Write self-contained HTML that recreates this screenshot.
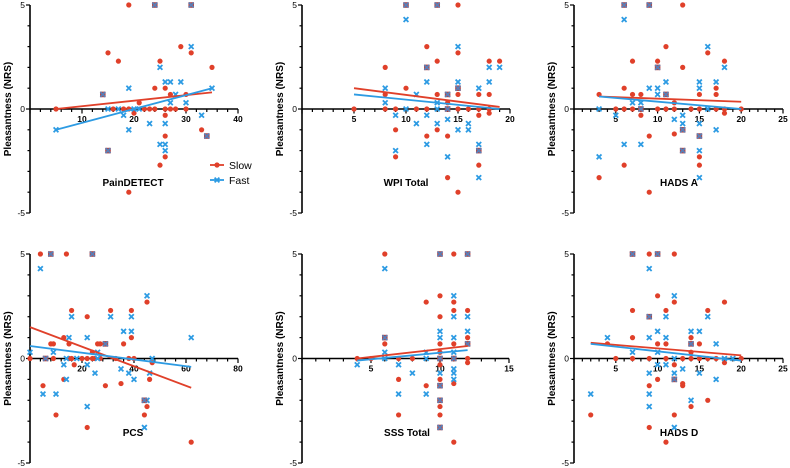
<!DOCTYPE html>
<html><head><meta charset="utf-8"><style>
html,body{margin:0;padding:0;background:#fff;}
svg{display:block;font-family:"Liberation Sans",Arial,sans-serif;}
</style></head><body>
<svg id="chart" width="790" height="468" viewBox="0 0 790 468" xmlns="http://www.w3.org/2000/svg"></svg>
<script>
// ---- data (x, pleasantness) ----
const painSlow=[[19,5],[24,5],[31,5],[15,2.7],[17,2.3],[29,3],[31,2.7],[35,2],[25,2.3],[24,1],[26,1],[14,0.7],[21,0.3],[27,0.7],[30,0.7],[5,0],[16,0],[18,0],[19,0],[22,0],[23,0],[24,0],[26,0],[27,0],[28,0],[30,0],[20,-0.2],[26,-0.3],[26,-1.3],[33,-1],[34,-1.3],[15,-2],[26,-2.3],[25,-2.7],[19,-4]];
const painFast=[[24,5],[31,5],[31,3],[25,2],[26,1.3],[27,1.3],[29,1.3],[19,1],[35,1],[28,0.7],[27,0.3],[30,0.3],[15,0],[17,0],[20,0],[21,0],[18,-0.3],[33,-0.3],[23,-0.7],[26,-0.7],[5,-1],[19,-1],[25,-1.7],[26,-1.7],[26,-2],[15,-2],[34,-1.3],[14,0.7]];
const wpiSlow=[[10,5],[13,5],[15,5],[12,3],[15,2.7],[13,2.3],[19,2.3],[18,2.3],[8,2],[12,2],[10,1],[15,1],[8,0.7],[13,0.7],[14,0.7],[15,0.7],[17,0.7],[18,0.7],[14,0.3],[5,0],[8,0],[9,0],[11,0],[12,0],[14,0],[15,0],[16,0],[17,0],[18,0],[17,-0.3],[18,-0.2],[9,-1],[13,-1],[14,-1.3],[12,-1.3],[17,-2],[9,-2.3],[17,-2.7],[14,-3.3],[15,-4]];
const wpiFast=[[10,5],[13,5],[10,4.3],[15,3],[12,2],[18,2],[19,2],[12,1.3],[15,1.3],[18,1.3],[8,1],[17,1],[15,1],[11,0.7],[14,0.7],[8,0.3],[13,0.3],[10,0],[13,0],[14,0],[9,-0.3],[12,-0.3],[11,-0.7],[13,-0.7],[14,-0.5],[16,-0.7],[15,-1],[16,-1],[12,-1.7],[17,-1.7],[9,-2],[17,-2],[14,-2.3],[17,-3.3]];
const hadsASlow=[[6,5],[9,5],[13,5],[11,3],[16,2.7],[7,2.3],[10,2.3],[18,2.3],[10,2],[13,2],[6,1],[17,1],[3,0.7],[7,0.7],[8,0.7],[11,0.7],[15,0.7],[17,0.7],[12,0.3],[5,0],[6,0],[7,0],[8,0],[10,0],[11,0],[12,0],[14,0],[15,0],[17,0],[18,0],[20,0],[8,-0.3],[18,-0.2],[13,-1],[15,-1.3],[9,-1.3],[12,-1.2],[13,-2],[15,-2.3],[6,-2.7],[15,-2.7],[3,-3.3],[9,-4]];
const hadsAFast=[[6,5],[9,5],[6,4.3],[16,3],[18,2],[10,2],[11,1.3],[15,1.3],[17,1.3],[9,1],[10,1],[15,1],[10,0.7],[11,0.7],[7,0.3],[8,0.3],[3,0],[8,0],[16,0],[5,-0.3],[13,-0.3],[12,-0.5],[13,-0.7],[15,-0.7],[13,-1],[17,-1],[15,-1.3],[6,-1.7],[8,-1.7],[13,-2],[15,-2],[3,-2.3],[15,-3.3]];
const pcsSlow=[[4,5],[8,5],[14,5],[24,5],[16,2.3],[31,2.3],[39,2.3],[22,2],[45,2.7],[13,1],[39,1],[8,0.7],[9,0.7],[15,0.7],[26,0.7],[27,0.7],[29,0.7],[36,0.7],[24,0.3],[0,0],[6,0],[9,0],[15,0],[16,0],[20,0],[22,0],[24,0],[25,0],[27,0],[33,0],[38,0],[40,0],[17,-0.3],[47,-0.2],[5,-1.3],[13,-1],[29,-1.3],[35,-1.2],[46,-1],[44,-2],[45,-2.3],[44,-2.7],[10,-2.7],[22,-3.3],[62,-4]];
const pcsFast=[[8,5],[24,5],[4,4.3],[45,3],[16,2],[31,2],[39,2],[36,1.3],[39,1.3],[15,1],[22,1],[62,1],[29,0.7],[9,0.3],[26,0.3],[0,0.3],[6,0],[14,0],[18,0],[26,0],[47,0],[13,-0.3],[22,-0.3],[35,-0.5],[38,-0.7],[25,-0.7],[46,-0.7],[40,-1],[14,-1],[5,-1.7],[10,-1.7],[45,-2],[44,-2],[22,-2.3],[44,-3.3]];
const sssSlow=[[6,5],[10,5],[11,5],[12,5],[10,3],[9,2.7],[11,2.7],[11,2.3],[12,2.3],[10,2],[6,1],[12,1],[6,0.7],[10,0.7],[11,0.7],[12,0.7],[10,0.3],[4,0],[5,0],[7,0],[8,0],[10,0],[11,0],[12,0],[12,-0.2],[10,-0.3],[7,-1],[10,-1],[9,-1.3],[10,-1.3],[11,-1.2],[10,-2],[10,-2.3],[7,-2.7],[10,-2.7],[10,-3.3],[11,-4]];
const sssFast=[[10,5],[12,5],[6,4.3],[11,3],[11,2],[12,2],[10,1.3],[12,1.3],[10,1],[11,1],[6,1],[6,0.3],[9,0.3],[12,0.7],[11,0.3],[6,0],[9,0],[10,0],[11,0],[4,-0.3],[7,-0.3],[8,-0.7],[10,-0.7],[11,-0.5],[11,-0.7],[11,-1],[10,-1.3],[7,-1.7],[9,-1.7],[10,-2],[10,-3.3]];
const hadsDSlow=[[7,5],[9,5],[10,5],[12,5],[10,3],[12,2.7],[18,2.7],[7,2.3],[11,2.3],[16,2.3],[9,2],[7,1],[14,1],[4,0.7],[10,0.7],[11,0.7],[14,0.7],[15,0.7],[14,0.3],[5,0],[7,0],[9,0],[11,0],[13,0],[14,0],[15,0],[16,0],[17,0],[20,0],[12,-0.3],[18,-0.2],[10,-1],[12,-1],[9,-1.3],[13,-1.2],[13,-1.3],[16,-2],[14,-2.3],[2,-2.7],[12,-2.7],[9,-3.3],[11,-4]];
const hadsDFast=[[7,5],[10,5],[9,4.3],[12,3],[11,2],[9,2],[16,2],[10,1.3],[14,1.3],[15,1.3],[4,1],[9,1],[11,1],[17,0.7],[14,0.7],[7,0.3],[10,0.3],[12,0],[18,0],[19,0],[10,-0.3],[11,-0.3],[13,-0.5],[12,-0.7],[15,-0.7],[9,-0.7],[17,-1],[12,-1],[2,-1.7],[9,-1.7],[14,-2],[9,-2.3],[12,-3.3]];
// regression line endpoints [x, y]
const painSlowFit=[[5,0],[35,0.8]], painFastFit=[[5,-1],[35,1]];
const wpiSlowFit=[[5,1],[19,0.1]], wpiFastFit=[[5,0.7],[19,0]];
const hadsASlowFit=[[3,0.6],[20,0.35]], hadsAFastFit=[[3,0.6],[20,0]];
const pcsSlowFit=[[0,1.5],[62,-1.4]], pcsFastFit=[[0,0.6],[62,-0.4]];
const sssSlowFit=[[4,0],[12,0.6]], sssFastFit=[[4,-0.1],[12,0.4]];
const hadsDSlowFit=[[2,0.75],[20,0.15]], hadsDFastFit=[[2,0.7],[20,-0.1]];
const yTickLabels=["5","0","-5"];
const yTickValues=[5,0,-5];

const RED="#e0402a", BLUE="#2d9be3", BOTH="#b04a4a";
const svg=document.getElementById('chart');
const NS="http://www.w3.org/2000/svg";
function mk(tag,attrs,parent){const e=document.createElementNS(NS,tag);for(const k in attrs)e.setAttribute(k,attrs[k]);(parent||svg).appendChild(e);return e;}

const panels=[
 {id:'paindetect',label:'PainDETECT',ax:30,xmax:40,xEnd:238,major:10,minor:2,top:5,bot:213,slow:painSlow,fast:painFast,sf:painSlowFit,ff:painFastFit,lx:133,ly:186,legend:true},
 {id:'wpi-total',label:'WPI Total',ax:302,xmax:20,xEnd:510,major:5,minor:1,top:5,bot:213,slow:wpiSlow,fast:wpiFast,sf:wpiSlowFit,ff:wpiFastFit,lx:406,ly:186},
 {id:'hads-a',label:'HADS A',ax:574,xmax:25,xEnd:783,major:5,minor:1,top:5,bot:213,slow:hadsASlow,fast:hadsAFast,sf:hadsASlowFit,ff:hadsAFastFit,lx:679,ly:186},
 {id:'pcs',label:'PCS',ax:30,xmax:80,xEnd:238,major:20,minor:4,top:254,bot:463,slow:pcsSlow,fast:pcsFast,sf:pcsSlowFit,ff:pcsFastFit,lx:133,ly:436},
 {id:'sss-total',label:'SSS Total',ax:302,xmax:15,xEnd:509,major:5,minor:1,top:254,bot:463,slow:sssSlow,fast:sssFast,sf:sssSlowFit,ff:sssFastFit,lx:407,ly:436},
 {id:'hads-d',label:'HADS D',ax:574,xmax:25,xEnd:783,major:5,minor:1,top:254,bot:463,slow:hadsDSlow,fast:hadsDFast,sf:hadsDSlowFit,ff:hadsDFastFit,lx:679,ly:436}
];

function dot(g,x,y,name){
  const c=mk('circle',{cx:x,cy:y,r:2.6,fill:RED},g);
  
  
}
function cross(g,x,y,name,color){
  const s=2.4;
  const p=mk('path',{d:`M${x-s},${y-s}L${x+s},${y+s}M${x+s},${y-s}L${x-s},${y+s}`,stroke:color||BLUE,'stroke-width':1.8,fill:'none'},g);
  
  
}

panels.forEach(P=>{
  const g=mk('g',{});
  
  
  const sx=v=>P.ax+v*(P.xEnd-P.ax)/P.xmax;
  const sy=v=>P.top+(5-v)*(P.bot-P.top)/10;
  const y0=sy(0);
  const ya=mk('line',{x1:P.ax,y1:P.top,x2:P.ax,y2:P.bot,stroke:'#000','stroke-width':1.6},g);
  
  
  for(let v=-5;v<=5;v++){
    const maj=(v%5===0);
    mk('line',{x1:P.ax-(maj?4:2.5),y1:sy(v),x2:P.ax,y2:sy(v),stroke:'#000','stroke-width':1.2},g);
  }
  yTickValues.forEach((v,i)=>{
    const t=mk('text',{x:P.ax-5,y:sy(v)+3,'text-anchor':'end','font-size':8.5,fill:'#000'},g);
    t.textContent=yTickLabels[i];
    
    
  });
  const yt=mk('text',{x:0,y:0,'text-anchor':'middle','font-size':10,'font-weight':'bold',fill:'#000',transform:`translate(${P.ax-19},${sy(0)}) rotate(-90)`},g);
  yt.textContent='Pleasantness (NRS)';
  
  
  const xa=mk('line',{x1:P.ax,y1:y0,x2:P.xEnd,y2:y0,stroke:'#000','stroke-width':1.6},g);
  
  
  for(let v=0;v<=P.xmax+1e-9;v+=P.minor){
    const maj=Math.abs(v/P.major-Math.round(v/P.major))<1e-6;
    mk('line',{x1:sx(v),y1:y0,x2:sx(v),y2:y0+(maj?4.5:3),stroke:'#000','stroke-width':1.2},g);
  }
  for(let v=P.major;v<=P.xmax+1e-9;v+=P.major){
    const t=mk('text',{x:sx(v),y:y0+13,'text-anchor':'middle','font-size':8.5,'font-weight':'bold',fill:'#000'},g);
    t.textContent=String(v);
    
    
  }
  const xl=mk('text',{x:P.lx,y:P.ly,'text-anchor':'middle','font-size':10,'font-weight':'bold',fill:'#000'},g);
  xl.textContent=P.label;
  
  
  P.slow.forEach(d=>dot(g,sx(d[0]),sy(d[1]),P.id+'-slow-point'));
  P.fast.forEach(d=>{
    const both=P.slow.some(s=>s[0]===d[0]&&s[1]===d[1]);
    if(both){
      const r=mk('rect',{x:sx(d[0])-2.8,y:sy(d[1])-2.8,width:5.6,height:5.6,fill:BOTH},g);
      
      
      cross(g,sx(d[0]),sy(d[1]),P.id+'-fast-point','#5a7fb8');
    } else cross(g,sx(d[0]),sy(d[1]),P.id+'-fast-point');
  });
  const lr=mk('line',{x1:sx(P.sf[0][0]),y1:sy(P.sf[0][1]),x2:sx(P.sf[1][0]),y2:sy(P.sf[1][1]),stroke:RED,'stroke-width':1.8},g);
  
  
  const lb=mk('line',{x1:sx(P.ff[0][0]),y1:sy(P.ff[0][1]),x2:sx(P.ff[1][0]),y2:sy(P.ff[1][1]),stroke:BLUE,'stroke-width':1.8},g);
  
  
  if(P.legend){
    const lg=mk('g',{},g);
    
    
    mk('line',{x1:210,y1:165,x2:224,y2:165,stroke:RED,'stroke-width':1.8},lg);
    dot(lg,217,165,'legend-slow-marker');
    const t1=mk('text',{x:229,y:169,'font-size':10.5,fill:'#000'},lg);
    t1.textContent='Slow';
    
    
    mk('line',{x1:210,y1:180,x2:224,y2:180,stroke:BLUE,'stroke-width':1.8},lg);
    cross(lg,217,180,'legend-fast-marker');
    const t2=mk('text',{x:229,y:184,'font-size':10.5,fill:'#000'},lg);
    t2.textContent='Fast';
    
    
  }
});
</script>
</body></html>
